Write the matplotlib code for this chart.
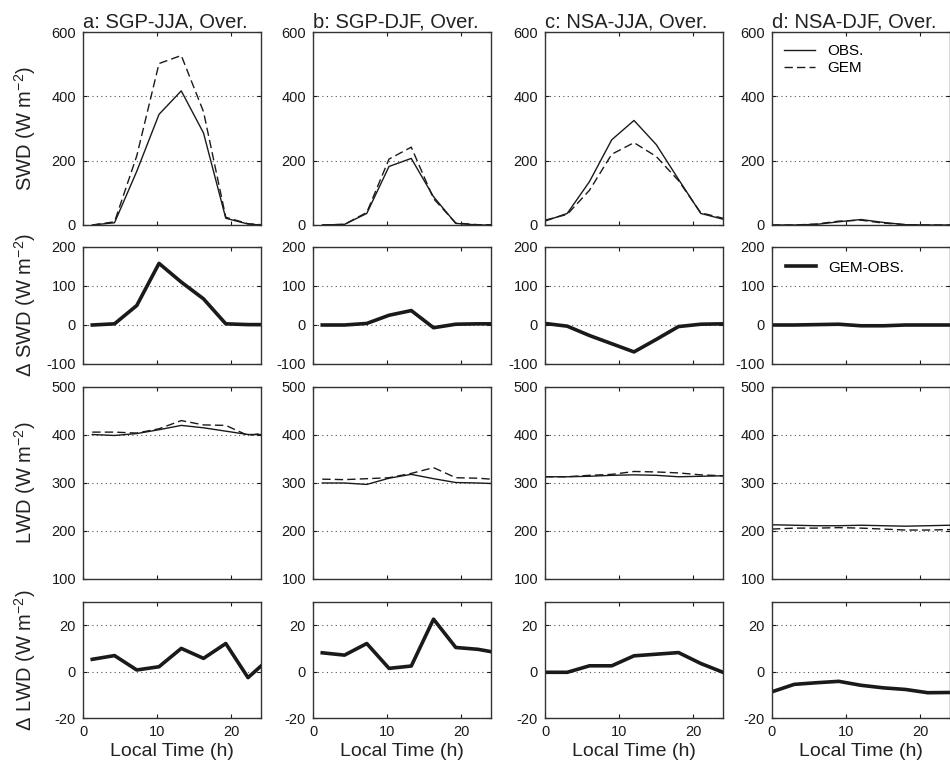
import numpy as np
import matplotlib
matplotlib.use('Agg')
import matplotlib.pyplot as plt

plt.rcParams['font.family'] = ['Liberation Sans', 'DejaVu Sans']
plt.rcParams['mathtext.fontset'] = 'custom'
plt.rcParams['mathtext.rm'] = 'Liberation Sans'
plt.rcParams['mathtext.it'] = 'Liberation Sans:italic'
plt.rcParams['axes.unicode_minus'] = False

# local time of the 3-hourly values (SGP and NSA sites)
t_sgp = [1.25, 4.25, 7.25, 10.25, 13.25, 16.25, 19.25, 22.25, 24]
t_nsa = [0, 3, 6, 9, 12, 15, 18, 21, 24]

titles = ['a: SGP-JJA, Over.', 'b: SGP-DJF, Over.', 'c: NSA-JJA, Over.', 'd: NSA-DJF, Over.']

# shortwave down (W m-2)
swd_obs = [
    [0, 7, 167, 344, 417, 286, 21, 3, 0],
    [0, 2, 36, 182, 207, 88, 5, 0, 0],
    [12, 36, 135, 265, 325, 250, 142, 36, 18],
    [0, 0, 2, 10, 17, 8, 1, 0, 0],
]
swd_gem = [
    [0, 10, 215, 502, 527, 352, 24, 4, 1],
    [0, 2, 39, 205, 242, 82, 6, 1, 1],
    [15, 33, 108, 220, 256, 213, 138, 38, 21],
    [0, 0, 3, 12, 15, 6, 1, 0, 0],
]
swd_diff = [
    [0, 3, 50, 158, 110, 67, 3, 1, 1],
    [0, 0, 4, 25, 37, -7, 2, 3, 3],
    [4, -3, -27, -48, -69, -37, -4, 2, 3],
    [0, 0, 1, 2, -2, -2, 0, 0, 0],
]

# longwave down (W m-2)
lwd_obs = [
    [401, 399, 403, 411, 420, 415, 408, 401, 401],
    [300, 300, 297, 310, 318, 309, 301, 300, 299],
    [313, 313, 314, 316, 317, 316, 313, 314, 315],
    [213, 212, 211, 211, 212, 211, 210, 211, 212],
]
lwd_gem = [
    [406, 406, 404, 413, 430, 421, 420, 399, 403],
    [308, 307, 309, 311, 320, 332, 311, 310, 308],
    [313, 313, 316, 318, 324, 323, 321, 317, 315],
    [204, 206, 206, 207, 206, 204, 202, 202, 203],
]
lwd_diff = [
    [5.3, 6.9, 0.7, 2.1, 10, 5.7, 12.1, -2.6, 2.4],
    [8.1, 7.1, 12.1, 1.4, 2.4, 22.6, 10.4, 9.6, 8.6],
    [-0.3, -0.3, 2.5, 2.5, 6.8, 7.5, 8.2, 3.5, -0.3],
    [-8.7, -5.5, -4.8, -4.2, -5.9, -7, -7.7, -9.1, -9],
]

row_ylim = [(0, 600), (-100, 200), (100, 500), (-20, 30)]
row_yticks = [[0, 200, 400, 600], [-100, 0, 100, 200], [100, 200, 300, 400, 500], [-20, 0, 20]]
row_ylabel = ['SWD (W m$^{-2}$)', '\u0394 SWD (W m$^{-2}$)', 'LWD (W m$^{-2}$)', '\u0394 LWD (W m$^{-2}$)']

W, H = 950, 768
fig = plt.figure(figsize=(W / 100, H / 100), dpi=100)

col_left = [83, 313, 545, 772]
col_w = 178
rows = [(32, 225), (247, 364), (387, 579), (602, 718)]

ink = '#1a1a1a'

for r, (top, bot) in enumerate(rows):
    for c in range(4):
        ax = fig.add_axes([col_left[c] / W, 1 - bot / H, col_w / W, (bot - top) / H])
        t = t_sgp if c < 2 else t_nsa
        if r == 0:
            ax.plot(t, swd_obs[c], color=ink, lw=1.0, label='OBS.')
            ax.plot(t, swd_gem[c], color=ink, lw=1.0, ls=(0, (6, 3)), label='GEM')
        elif r == 1:
            ax.plot(t, swd_diff[c], color=ink, lw=2.6, label='GEM-OBS.')
        elif r == 2:
            ax.plot(t, lwd_obs[c], color=ink, lw=1.0)
            ax.plot(t, lwd_gem[c], color=ink, lw=1.0, ls=(0, (6, 3)))
        else:
            ax.plot(t, lwd_diff[c], color=ink, lw=2.6)

        ax.set_xlim(0, 24)
        ax.set_ylim(*row_ylim[r])
        ax.set_xticks([0, 10, 20])
        ax.set_yticks(row_yticks[r])
        ax.yaxis.grid(True, color='#555555', ls=(0, (1, 3)), lw=0.8)
        ax.tick_params(direction='in', top=True, right=True, length=3,
                       labelsize=10.5, pad=5, colors=ink)
        for s in ax.spines.values():
            s.set_linewidth(1.0)
            s.set_color('#333333')
        if r < 3:
            ax.set_xticklabels([])
        else:
            ax.set_xlabel('Local Time (h)', fontsize=14, labelpad=3, color='#222222')
        if c == 0:
            ax.set_ylabel(row_ylabel[r], fontsize=14.5, color='#222222')
            ax.yaxis.set_label_coords(-0.25, 0.5)
        if r == 0:
            ax.set_title(titles[c], loc='left', fontsize=14.5, pad=3, color='#222222')
            if c == 3:
                ax.legend(loc='upper left', frameon=False, fontsize=11,
                          handlelength=2.0, borderaxespad=0.4, labelspacing=0.2)
        if r == 1 and c == 3:
            ax.legend(loc='upper left', frameon=False, fontsize=11,
                      handlelength=2.0, borderaxespad=0.5)

fig.savefig('out.png', dpi=100)
